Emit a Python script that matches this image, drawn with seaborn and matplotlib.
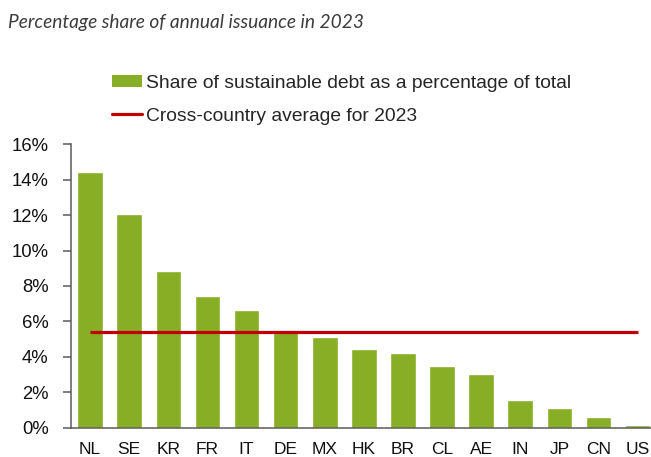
import matplotlib
matplotlib.use("Agg")
import matplotlib.pyplot as plt
import seaborn as sns
import pandas as pd
from matplotlib.patches import Patch
from matplotlib.lines import Line2D
from matplotlib.ticker import FixedLocator, FuncFormatter

# Share of sustainable debt in annual issuance, 2023 (%)
countries = ["NL", "SE", "KR", "FR", "IT", "DE", "MX", "HK", "BR", "CL", "AE", "IN", "JP", "CN", "US"]
share_pct = [14.42, 12.05, 8.83, 7.44, 6.65, 5.45, 5.12, 4.44, 4.22, 3.50, 3.03, 1.58, 1.13, 0.62, 0.14]
cross_country_avg = 5.42
y_ticks = [0, 2, 4, 6, 8, 10, 12, 14, 16]

title_text = "Percentage share of annual issuance in 2023"
bar_label = "Share of sustainable debt as a percentage of total"
line_label = "Cross-country average for 2023"

BAR_GREEN = "#87AE25"
AVG_RED = "#C00000"
AXIS_GREY = "#5a5a5a"

sns.set_style("white")
plt.rcParams["font.family"] = ["Liberation Sans", "DejaVu Sans"]

df = pd.DataFrame({"country": countries, "share": share_pct})

W, H = 651, 457
fig = plt.figure(figsize=(W / 100, H / 100), dpi=100)
# axes: left spine at x=70.6px, zero line at y=427.7px, 16% at y=144.3px
ax_left, ax_bottom = 70.6, 427.7
cat_w = 39.1
ax = fig.add_axes([ax_left / W, (H - ax_bottom) / H,
                   cat_w * len(countries) / W, (ax_bottom - 144.3) / H])

sns.barplot(data=df, x="country", y="share", order=countries, color=BAR_GREEN,
            width=0.655, saturation=1, ax=ax, zorder=2)

ax.hlines(cross_country_avg, 0, len(countries) - 1, color=AVG_RED, lw=2.3, zorder=3)

ax.set_xlim(-0.5, len(countries) - 0.5)
ax.set_ylim(0, 16)
ax.set_xlabel("")
ax.set_ylabel("")

ax.yaxis.set_major_locator(FixedLocator(y_ticks))
ax.yaxis.set_major_formatter(FuncFormatter(lambda v, p: f"{v:.0f}%"))

# category boundaries carry the x tick marks; labels sit under the bars
ax.set_xticks([i - 0.5 for i in range(len(countries) + 1)], minor=True)
ax.tick_params(axis="x", which="major", length=0, pad=10.5, labelsize=12.5, colors="#111111")
ax.tick_params(axis="x", which="minor", length=4.5, width=1.1, color=AXIS_GREY, direction="out")
ax.tick_params(axis="y", which="major", length=5.8, width=1.1, color=AXIS_GREY,
               direction="out", pad=10, labelsize=13.3, labelcolor="#111111")
ax.tick_params(bottom=True, left=True)
ax.tick_params(axis="x", which="major", bottom=False)

for side in ["top", "right"]:
    ax.spines[side].set_visible(False)
for side in ["left", "bottom"]:
    ax.spines[side].set_color(AXIS_GREY)
    ax.spines[side].set_linewidth(1.1)
ax.grid(False)

handles = [Patch(facecolor=BAR_GREEN, edgecolor="none", label=bar_label),
           Line2D([0], [0], color=AVG_RED, lw=2.3, label=line_label)]
fig.legend(handles=handles, loc="upper left", bbox_to_anchor=(104 / W, 1 - 67 / H),
           frameon=False, fontsize=13.9, handlelength=1.55, handleheight=0.58,
           handletextpad=0.22, labelspacing=0.82, borderaxespad=0, borderpad=0.4)

fig.text(8 / W, 1 - 28.3 / H, title_text, fontsize=13.8, style="italic",
         family=["Lato", "DejaVu Sans"], color="#3c3c3c", ha="left", va="baseline")

fig.savefig("out.png", dpi=100)
